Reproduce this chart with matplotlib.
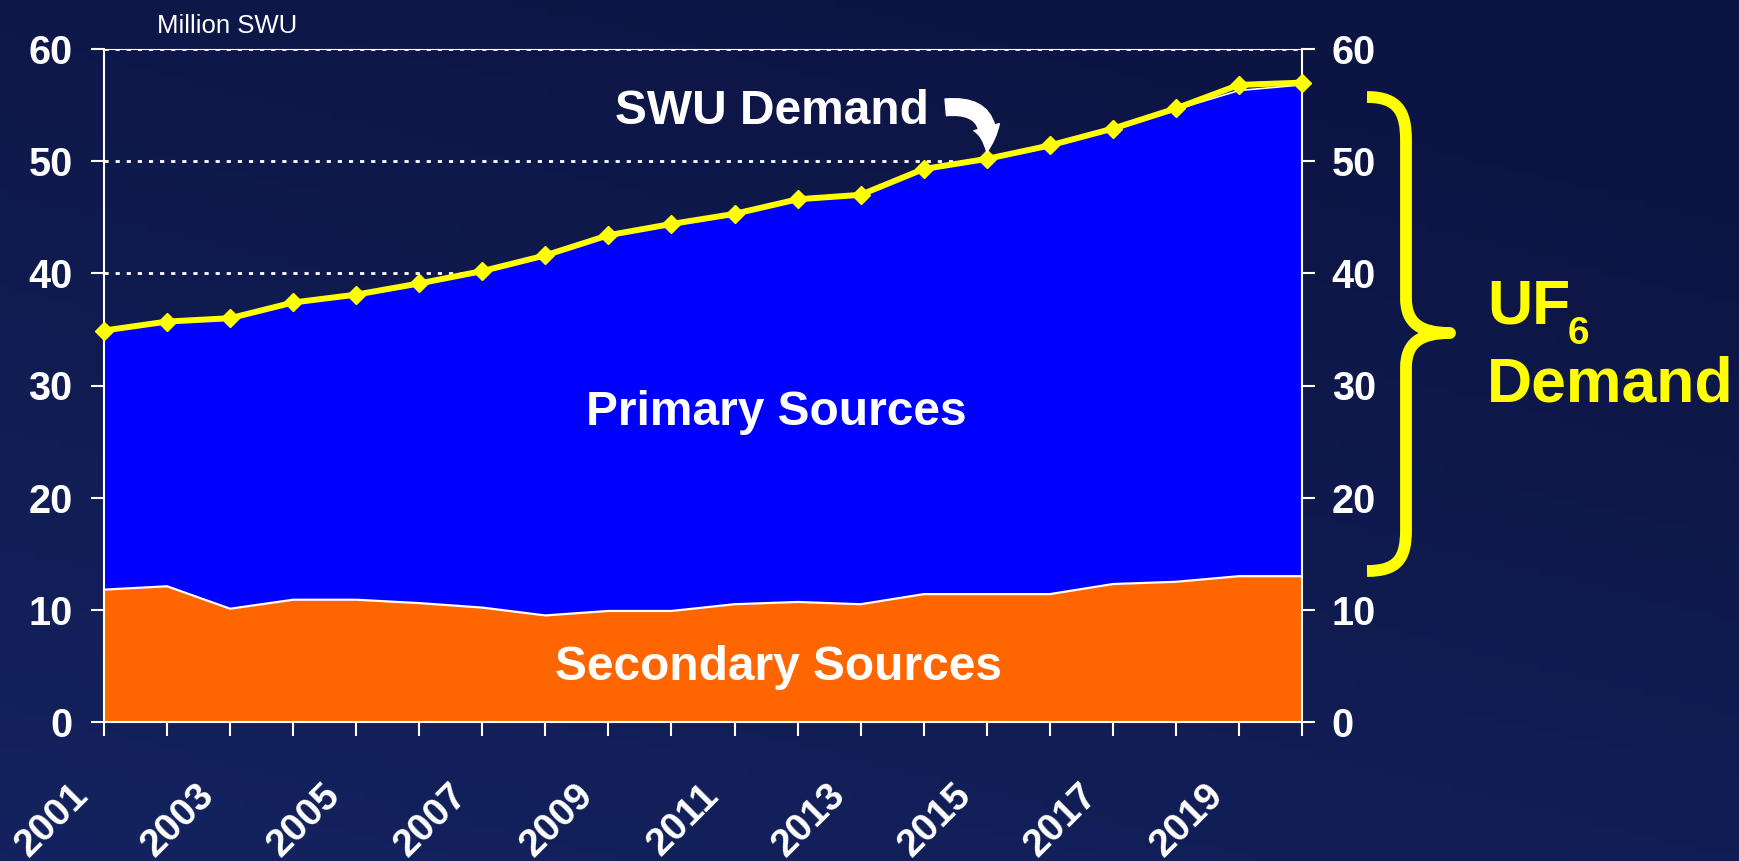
import numpy as np
import matplotlib
matplotlib.use("Agg")
import matplotlib.pyplot as plt
from matplotlib.path import Path
from matplotlib.patches import PathPatch
from matplotlib import transforms

# data (million SWU)
years = list(range(2001, 2021))
swu_demand = [34.9, 35.7, 36.0, 37.4, 38.1, 39.1, 40.2, 41.6, 43.4, 44.4,
              45.3, 46.6, 47.0, 49.3, 50.2, 51.4, 52.9, 54.7, 56.8, 57.0]
total_supply = [34.9, 35.7, 36.0, 37.4, 38.1, 39.1, 40.2, 41.6, 43.4, 44.4,
                45.3, 46.6, 47.0, 49.3, 50.2, 51.4, 52.9, 54.6, 56.3, 56.8]
secondary = [11.8, 12.1, 10.1, 10.9, 10.9, 10.6, 10.2, 9.5, 9.9, 9.9,
             10.5, 10.7, 10.5, 11.4, 11.4, 11.4, 12.3, 12.5, 13.0, 13.0]
y_ticks = [0, 10, 20, 30, 40, 50, 60]
x_labels = [str(y) if (y - 2001) % 2 == 0 else "" for y in years]

plt.rcParams["font.family"] = ["Liberation Sans", "DejaVu Sans"]
plt.rcParams["font.weight"] = "bold"

W, H = 1740, 861
fig = plt.figure(figsize=(W / 100, H / 100), dpi=100)

# ─────────────── background
bg = fig.add_axes([0, 0, 1, 1])
bg.set_zorder(-1)
xx, yy = np.meshgrid(np.linspace(0, 1, 200), np.linspace(0, 1, 100))
t = np.clip(0.6 * yy + 0.3 * (1 - xx) - 0.1, 0, 1)
dark = np.array([12, 20, 66]) / 255
light = np.array([22, 38, 102]) / 255
img = dark[None, None, :] * (1 - t[..., None]) + light[None, None, :] * t[..., None]
bg.imshow(img, aspect="auto", extent=[0, 1, 0, 1], origin="upper")
bg.axis("off")

# ─────────────── main axes
ax = fig.add_axes([104 / W, 1 - 722 / H, (1302 - 104) / W, (722 - 49) / H])
ax.patch.set_alpha(0)
ax.fill_between(years, 0, secondary, color="#FF6600", lw=0, zorder=1)
ax.fill_between(years, secondary, total_supply, color="#0000FF", lw=0, zorder=1)
ax.plot(years, secondary, color="white", lw=1.6, zorder=2)
ax.plot(years, total_supply, color="white", lw=1.2, zorder=2)
ax.plot(years, swu_demand, color="#FFFF00", lw=4.3, marker="D", ms=9,
        clip_on=False, zorder=4)

ax.set_xlim(years[0], years[-1])
ax.set_ylim(0, 60)
ax.set_yticks(y_ticks)
ax.set_axisbelow(True)
ax.yaxis.grid(True, color="white", ls=(0, (1.5, 2.5)), lw=2)

for side in ["left", "right", "bottom"]:
    ax.spines[side].set_color("white")
    ax.spines[side].set_linewidth(1.5)
ax.spines["top"].set_color("white")
ax.spines["top"].set_linewidth(0.8)

ax.tick_params(axis="y", colors="white", length=9.5, width=1.5, pad=13, labelsize=28.5)
ax.set_xticks(years)
ax.set_xticklabels(x_labels, rotation=45, ha="right", va="baseline",
                   rotation_mode="anchor")
ax.tick_params(axis="x", colors="white", length=10, width=1.5, pad=44, labelsize=28)
shift = transforms.ScaledTranslation(-14 / 100, 0, fig.dpi_scale_trans)
for lbl in ax.get_xticklabels():
    lbl.set_transform(lbl.get_transform() + shift)

ax2 = ax.twinx()
ax2.set_ylim(0, 60)
ax2.set_yticks(y_ticks)
for s in ax2.spines.values():
    s.set_visible(False)
ax2.tick_params(axis="y", colors="white", length=9.5, width=1.5, pad=12, labelsize=28.5)

# ─────────────── annotations
ax.text(2011.6, 54.4, "SWU Demand", color="white", fontsize=34.5,
        ha="center", va="center")
ax.text(2011.66, 27.6, "Primary Sources", color="white", fontsize=34.5,
        ha="center", va="center")
ax.text(2011.7, 4.9, "Secondary Sources", color="white", fontsize=34.5,
        ha="center", va="center")
ax.annotate("", xy=(2015, 50.8), xytext=(2014.35, 54.8),
            arrowprops=dict(arrowstyle="simple,head_length=0.9,head_width=0.95,tail_width=0.6",
                            connectionstyle="arc3,rad=-0.65", color="white",
                            shrinkA=0, shrinkB=0, mutation_scale=20),
            zorder=5)

fig.text(227 / W, 1 - 33 / H, "Million SWU", color="white", fontsize=18.5,
         fontweight="normal", ha="center", va="baseline")

# brace in pixel coordinates (y down)
px = transforms.Affine2D().scale(1 / W, -1 / H).translate(0, 1) + fig.transFigure
verts = [(1367, 97), (1398, 97), (1406, 112), (1406, 140),
         (1406, 298),
         (1406, 323), (1420, 333), (1450, 333),
         (1420, 333), (1406, 343), (1406, 368),
         (1406, 530),
         (1406, 558), (1398, 571), (1367, 571)]
codes = [Path.MOVETO, Path.CURVE4, Path.CURVE4, Path.CURVE4,
         Path.LINETO,
         Path.CURVE4, Path.CURVE4, Path.CURVE4,
         Path.CURVE4, Path.CURVE4, Path.CURVE4,
         Path.LINETO,
         Path.CURVE4, Path.CURVE4, Path.CURVE4]
brace = PathPatch(Path(verts, codes), transform=px, fill=False,
                  edgecolor="#FFFF00", lw=8.5, capstyle="butt", joinstyle="round")
fig.add_artist(brace)

fig.text(1487 / W, 1 - 324 / H, "UF", color="#FFFF00", fontsize=45,
         ha="left", va="baseline")
fig.text(1568 / W, 1 - 344 / H, "6", color="#FFFF00", fontsize=28,
         ha="left", va="baseline")
fig.text(1487 / W, 1 - 402 / H, "Demand", color="#FFFF00", fontsize=45,
         ha="left", va="baseline")

fig.savefig("out.png", dpi=100)
